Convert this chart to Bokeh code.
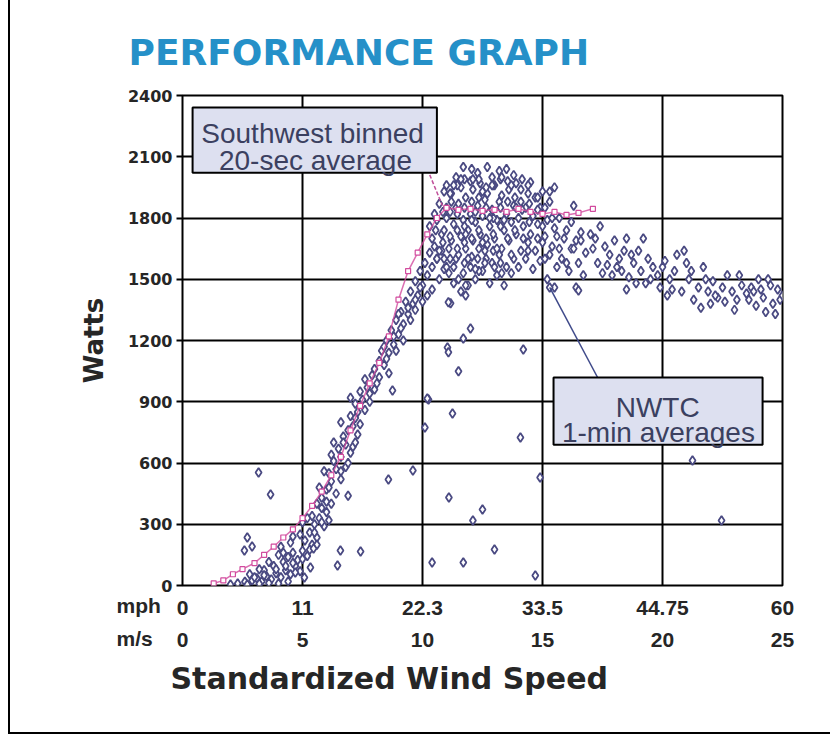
from bokeh.plotting import figure
from bokeh.models import Range1d, FixedTicker, LinearAxis, Label, BoxAnnotation, Title
from bokeh.embed import file_html
from bokeh.resources import INLINE

# ---------------- data (wind speed in m/s, power in W) ----------------
ms_ticks = [0, 5, 10, 15, 20, 25]
mph_labels = ["0", "11", "22.3", "33.5", "44.75", "60"]
ms_labels = ["0", "5", "10", "15", "20", "25"]
watt_ticks = [0, 300, 600, 900, 1200, 1500, 1800, 2100, 2400]

# Southwest binned 20-sec average
sw_ms = [1.3, 1.7, 2.1, 2.5, 3.0, 3.4, 3.8, 4.2, 4.6, 5.0, 5.4, 5.8, 6.2, 6.6, 7.0, 7.4, 7.8,
         8.2, 8.6, 9.0, 9.4, 9.8, 10.2, 10.6, 11.0, 11.5, 12.0, 12.5, 13.0, 13.5, 14.0, 14.5,
         15.0, 15.5, 16.0, 16.5, 17.1]
sw_w = [10, 25, 55, 80, 110, 150, 190, 235, 275, 330, 390, 460, 540, 630, 760, 880, 990,
        1090, 1220, 1400, 1540, 1630, 1720, 1800, 1850, 1840, 1845, 1835, 1840, 1830, 1845, 1830,
        1820, 1830, 1815, 1825, 1845]

# NWTC 1-min averages: rising part
rise_ms = [2.0, 2.3, 2.6, 2.9, 3.1, 3.3, 3.5, 3.7, 3.9, 4.1, 4.3, 4.5, 4.7, 4.9, 3.4, 3.8, 4.2,
           4.4, 4.6, 4.8, 5.0, 5.2, 5.4, 5.1, 4.0, 3.6, 3.2, 2.8, 4.9, 5.3, 5.6, 5.5, 5.7, 5.0,
           5.9, 6.0, 4.5, 4.1, 5.8, 2.7, 3.2, 3.6, 4.0, 4.4,
           5.6, 5.8, 6.0, 5.7, 6.2, 6.1, 6.4, 6.3, 6.6, 6.5, 6.8, 6.7, 6.9, 7.1, 7.0, 7.3, 7.2,
           7.5, 7.4, 7.7, 7.6, 7.9, 6.9, 6.6, 6.3, 6.6, 7.0, 5.4, 6.0, 6.2, 5.9, 6.8, 7.3, 7.8, 7.1,
           8.0, 8.2, 8.4, 8.3, 8.6, 8.5, 8.8, 8.7, 9.0, 8.9, 9.2, 9.1, 9.4, 9.3, 9.6, 9.5, 9.8,
           9.7, 10.0, 9.9, 10.2, 10.1, 10.4, 10.3, 10.6, 10.5, 10.8, 8.1, 8.9, 9.5, 10.0, 10.4,
           10.7, 10.9, 8.6, 9.2, 9.7, 10.2,
           3.0, 3.4, 3.9, 4.3, 4.6, 5.0, 5.3, 5.6, 5.5, 5.8, 6.1, 6.2, 6.4, 6.6, 6.9, 7.0, 7.2,
           7.4, 7.6, 7.8, 8.0, 8.2, 8.5, 8.8, 9.1, 9.4, 9.7, 9.9, 6.1, 6.7, 7.2, 8.4, 9.0, 5.2,
           4.6, 4.2]
rise_w = [5, 10, 18, 25, 35, 20, 45, 30, 60, 40, 75, 55, 95, 70, 75, 95, 115,
          140, 160, 125, 170, 145, 200, 220, 150, 115, 80, 55, 250, 260, 235, 300, 330, 310,
          290, 360, 210, 190, 380, 5, 8, 12, 10, 20,
          400, 430, 470, 480, 510, 550, 570, 610, 630, 670, 690, 730, 760, 780, 830, 850, 890,
          910, 950, 970, 1010, 1030, 440, 520, 700, 800, 920, 340, 410, 640, 560, 580, 740, 900, 680,
          1060, 1100, 1080, 1150, 1140, 1200, 1180, 1250, 1230, 1300, 1280, 1340, 1330, 1390, 1380, 1440, 1420,
          1490, 1470, 1540, 1520, 1580, 1560, 1630, 1600, 1660, 1640, 990, 1150, 1300, 1390, 1450,
          1500, 1550, 1040, 1200, 1350, 1420,
          40, 50, 80, 95, 110, 130, 175, 200, 260, 310, 320, 400, 450, 560, 600, 650, 700,
          790, 860, 940, 960, 1020, 1110, 1220, 1260, 1360, 1400, 1460, 480, 700, 820, 1170, 1330, 330,
          240, 160]

# NWTC: peak cloud
peak_ms = [10.4, 10.3, 10.5, 10.7, 10.8, 10.6, 10.7, 10.9, 11.0, 11.1, 10.9, 11.0, 11.2, 11.0,
           11.3, 11.4, 11.2, 11.3, 11.4, 11.2, 11.4, 11.6, 11.7, 11.5, 11.6, 11.7, 11.5, 11.6, 11.7,
           11.9, 12.0, 11.8, 11.9, 12.0, 11.8, 12.0, 12.2, 12.3, 12.1, 12.2, 12.3, 12.1, 12.3,
           12.5, 12.6, 12.4, 12.5, 12.6, 12.4, 12.7, 12.8, 12.9, 12.7, 12.8, 12.9, 12.7, 12.9,
           13.1, 13.2, 13.0, 13.1, 13.2, 13.0, 13.2, 13.4, 13.5, 13.3, 13.4, 13.5, 13.3, 13.5,
           13.7, 13.8, 13.6, 13.7, 13.8, 13.6, 13.8, 14.0, 14.1, 13.9, 14.0, 14.1, 13.9,
           14.3, 14.4, 14.2, 14.3, 14.4, 14.6, 14.7, 14.5, 14.6, 14.7, 14.5, 14.9, 15.0, 14.8, 14.9, 15.0,
           15.2, 15.3, 15.1, 15.2, 15.3, 15.5, 15.6, 15.4, 15.5, 15.5, 15.8, 15.9, 15.7,
           16.1, 16.2, 16.0, 16.3, 16.4, 16.5, 16.4, 16.7, 16.8, 16.6,
           10.55, 10.85, 10.85, 11.15, 11.15, 11.15, 11.15, 11.45, 11.45, 11.45, 11.45, 11.75, 11.75,
           11.75, 11.75, 11.75, 12.05, 12.05, 12.05, 12.05, 12.05, 12.35, 12.35, 12.35, 12.35, 12.35,
           12.65, 12.65, 12.65, 12.65, 12.95, 12.95, 12.95, 12.95, 13.25, 13.25, 13.25, 13.25,
           13.55, 13.55, 13.55, 13.85, 13.85, 14.15, 14.15, 14.45, 14.45,
           10.6, 10.9, 11.1, 11.3, 11.5, 11.9, 12.2, 12.6, 13.0, 13.3, 13.7, 14.2, 14.8, 15.0,
           15.4, 15.7, 16.0, 16.3, 11.0, 11.3, 11.6, 12.1, 12.5, 12.9, 13.3, 13.7, 14.1, 14.4,
           14.8, 15.3, 15.1, 14.8, 12.2, 12.8, 13.4, 13.9, 11.8, 12.5, 13.1, 14.4, 15.1, 15.6,
           16.2, 16.6]
peak_w = [1700, 1760, 1820, 1640, 1720, 1790, 1870, 1930, 1560, 1650, 1740, 1800, 1880, 1960,
          1480, 1600, 1690, 1770, 1850, 1920, 2000, 1440, 1530, 1620, 1710, 1790, 1870, 1950, 2050,
          1470, 1560, 1650, 1740, 1820, 1900, 1980, 1500, 1600, 1690, 1780, 1860, 1940, 2020,
          1540, 1640, 1720, 1810, 1890, 1970, 2050, 1480, 1580, 1670, 1760, 1840, 1920, 2000,
          1520, 1620, 1700, 1790, 1880, 1960, 2030, 1470, 1560, 1650, 1740, 1820, 1910, 2040,
          1530, 1600, 1690, 1780, 1860, 1940, 2010, 1560, 1640, 1720, 1800, 1880, 1970,
          1600, 1680, 1760, 1850, 1920, 1550, 1640, 1720, 1810, 1900, 1975, 1590, 1680, 1770, 1850, 1930,
          1500, 1620, 1710, 1790, 1880, 1460, 1560, 1660, 1750, 1950, 1600, 1700, 1800,
          1540, 1650, 1740, 1860, 1460, 1580, 1690, 1520, 1630, 1730,
          1740, 1680, 1830, 1600, 1710, 1830, 1920, 1650, 1740, 1820, 1960, 1580, 1680,
          1760, 1850, 1990, 1610, 1700, 1790, 1880, 2040, 1540, 1650, 1740, 1900, 1990,
          1600, 1700, 1850, 1950, 1640, 1720, 1800, 1960, 1580, 1760, 1850, 1990,
          1700, 1880, 1980, 1740, 1900, 1840, 1990, 1780, 1870,
          1600, 1600, 1530, 1560, 1500, 1600, 1550, 1580, 1560, 1530, 1620, 1700, 1700, 1760,
          1800, 1650, 1580, 1650, 1850, 1960, 1990, 1990, 1930, 1960, 2000, 1960, 1940, 1960,
          1900, 1930, 1850, 1840, 1830, 1800, 1790, 1850, 1720, 1680, 1650, 1640, 1600, 1710,
          1780, 1690]

# NWTC: high-wind tail
tail_ms = [17.2, 17.4, 17.6, 17.3, 17.8, 17.5, 18.0, 18.2, 18.1, 18.4, 18.6, 18.5, 18.8, 19.0,
           19.1, 19.3, 19.4, 19.6, 19.8, 19.9, 20.1, 20.3, 20.5, 20.6, 20.8, 21.0, 21.1, 21.3,
           21.5, 21.6, 21.7, 21.9, 22.1, 22.3, 22.5, 22.7, 22.9, 23.1, 23.3, 23.5, 23.7, 23.9,
           24.1, 24.3, 24.5, 24.7, 24.9, 24.8, 20.2, 19.2, 20.9, 22.0, 23.0, 24.0, 18.9, 17.9,
           17.1, 17.7, 18.3, 18.7, 19.5, 20.0, 20.4, 21.2, 21.8, 22.2, 22.6, 23.2, 23.6, 24.2,
           24.6, 25.0, 24.4, 23.8, 17.0, 18.5]
tail_w = [1700, 1760, 1660, 1580, 1620, 1530, 1690, 1600, 1560, 1640, 1510, 1450, 1580, 1640,
          1540, 1480, 1600, 1560, 1520, 1460, 1590, 1500, 1540, 1620, 1440, 1580, 1500, 1400,
          1460, 1360, 1560, 1440, 1490, 1410, 1460, 1520, 1440, 1400, 1470, 1430, 1460, 1370,
          1450, 1340, 1470, 1330, 1400, 1450, 1420, 1700, 1640, 1380, 1350, 1500, 1480, 1520,
          1650, 1570, 1540, 1620, 1500, 1560, 1450, 1540, 1500, 1420, 1390, 1520, 1400, 1410,
          1380, 1420, 1500, 1440, 1720, 1700]

# NWTC: scattered low points
out_ms = [11.17, 12.0, 11.7, 11.04, 11.08, 14.2, 11.5, 10.25, 11.25, 10.1, 14.08, 9.6, 14.9,
          11.1, 12.5, 12.1, 13.0, 10.4, 11.7, 14.7, 21.25, 22.46, 3.17, 3.67, 2.7, 2.9, 2.58,
          8.58, 5.46, 6.58, 7.42, 6.46, 5.33, 4.7, 5.08, 8.75, 10.2, 11.08, 11.8, 11.8, 15.3, 16.5]
out_w = [1382, 1259, 1210, 1166, 1142, 1156, 1049, 911, 843, 774, 725, 563, 529,
         431, 372, 318, 176, 113, 113, 49, 612, 318, 554, 446, 235, 191, 171,
         519, 181, 171, 167, 98, 88, 64, 39, 955, 916, 1387, 1421, 1470, 1460, 1445]

# ---------------- figure ----------------
TXT = "#262626"
p = figure(width=822, height=734, output_backend="svg", toolbar_location=None,
           x_range=Range1d(0, 25), y_range=Range1d(0, 2400),
           min_border_left=172, min_border_right=50, min_border_top=95, min_border_bottom=149,
           background_fill_color="white", border_fill_color="white")
p.styles = {"margin-left": "8px", "border-left": "2px solid black",
            "border-bottom": "2px solid black"}

p.outline_line_color = "black"
p.outline_line_width = 2

p.title.text = "PERFORMANCE GRAPH"
p.title.text_font = "DejaVu Sans"
p.title.text_font_size = "36px"
p.title.text_font_style = "bold"
p.title.text_color = "#2590c8"
p.title.align = "left"
p.title.vertical_align = "top"
p.title.offset = -54
p.title.standoff = 42

# grid
p.xgrid.ticker = FixedTicker(ticks=ms_ticks)
p.ygrid.ticker = FixedTicker(ticks=watt_ticks)
for g in (p.xgrid, p.ygrid):
    g.grid_line_color = "black"
    g.grid_line_width = 2
    g.grid_line_alpha = 1

# y axis
ya = p.yaxis[0]
ya.ticker = FixedTicker(ticks=watt_ticks)
ya.axis_line_color = None
ya.major_tick_out = 6
ya.major_tick_in = 0
ya.major_tick_line_width = 2
ya.major_tick_line_color = "black"
ya.minor_tick_line_color = None
ya.major_label_text_font = "DejaVu Sans"
ya.major_label_text_font_style = "bold"
ya.major_label_text_font_size = "16px"
ya.major_label_text_color = TXT
ya.major_label_standoff = 4
ya.axis_label = "Watts"
ya.axis_label_text_font = "DejaVu Sans"
ya.axis_label_text_font_style = "bold"
ya.axis_label_text_font_size = "26px"
ya.axis_label_text_color = TXT
ya.axis_label_standoff = 16

# x axes: mph row then m/s row
XFONT = "Liberation Sans Narrow, Liberation Sans"
def style_x(ax, labels):
    ax.ticker = FixedTicker(ticks=ms_ticks)
    ax.major_label_overrides = {t: s for t, s in zip(ms_ticks, labels)}
    ax.axis_line_color = None
    ax.major_tick_line_color = None
    ax.minor_tick_line_color = None
    ax.major_label_text_font = XFONT
    ax.major_label_text_font_style = "bold"
    ax.major_label_text_font_size = "21px"
    ax.major_label_text_color = TXT

xa = p.xaxis[0]
style_x(xa, mph_labels)
xa.major_label_standoff = 9

xb = LinearAxis()
style_x(xb, ms_labels)
xb.major_label_standoff = 9

t_xlabel = Title(text="Standardized Wind Speed", align="left", vertical_align="bottom",
                 offset=-12, standoff=18, text_font="DejaVu Sans", text_font_style="bold",
                 text_font_size="30px", text_color=TXT)
# unit names, pulled back up beside the two tick-label rows
t_units = Title(text="mph\nm/s", align="left", vertical_align="top", offset=-66, standoff=-222,
                text_font=XFONT, text_font_style="bold", text_font_size="21px",
                text_color=TXT, text_line_height=1.45)
p.below = [xa, xb, t_xlabel, t_units]

# data
NAVY = "#4a4a82"
for xs, ys in ((rise_ms, rise_w), (peak_ms, peak_w), (tail_ms, tail_w), (out_ms, out_w)):
    p.scatter(xs, ys, marker="diamond", size=9, line_color=NAVY, line_width=1.8,
              fill_color="white")

PINK = "#d24b9e"
p.line(sw_ms, sw_w, line_color=PINK, line_width=1.5, line_alpha=0.8)
p.scatter(sw_ms, sw_w, marker="square", size=5, line_color=PINK, line_width=1.2, fill_color="white")

# callout boxes
BOXFILL = "#dde0f0"
BOXTXT = "#3b4060"
p.add_layout(BoxAnnotation(left=0.42, right=10.6, top=2341, bottom=2022, fill_color=BOXFILL,
                           fill_alpha=1, line_color="black", line_alpha=1, line_width=2,
                           level="overlay"))
p.add_layout(BoxAnnotation(left=15.46, right=24.17, top=1019, bottom=690, fill_color=BOXFILL,
                           fill_alpha=1, line_color="black", line_alpha=1, line_width=2,
                           level="overlay"))
for txt, xv, yv in (("Southwest binned", 5.42, 2213), ("20-sec average", 5.54, 2081),
                    ("NWTC", 19.8, 872), ("1-min averages", 19.83, 749)):
    p.add_layout(Label(x=xv, y=yv, text=txt, text_align="center", text_baseline="alphabetic",
                       text_font="Liberation Sans", text_font_size="28px", text_color=BOXTXT,
                       level="overlay"))

r1 = p.line([9.92, 10.83], [2120, 1861], line_color="#c0509a", line_width=1.5, line_dash="4 2")
r2 = p.line([15.3, 17.54], [1460, 965], line_color="#3f4a8a", line_width=1.5)
r1.level = "overlay"
r2.level = "overlay"

open("out.html", "w").write(file_html(p, INLINE))
